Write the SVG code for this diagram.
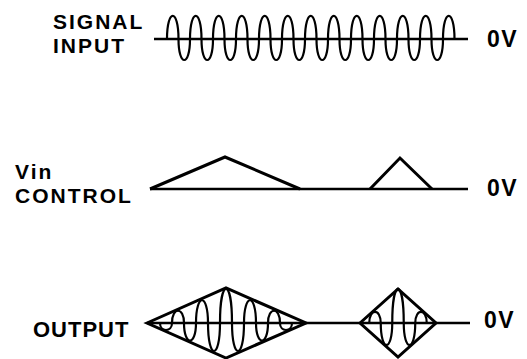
<svg xmlns="http://www.w3.org/2000/svg" width="527" height="359" viewBox="0 0 527 359">
<style>
.lbl{font-family:"Liberation Sans",Arial,sans-serif;font-weight:bold;font-size:21px;letter-spacing:2px;fill:#000}
.zv{font-size:23px;letter-spacing:1.5px}
.out{font-size:22px;letter-spacing:1px}
.base{stroke:#000;stroke-width:2.5;fill:none}
.wave{stroke:#000;stroke-width:2.2;fill:none;stroke-linejoin:round}
.env{stroke:#000;stroke-width:3;fill:none;stroke-linejoin:miter}
</style>
<rect width="527" height="359" fill="#fff"/>
<g id="signal-input">
<text class="lbl" x="53" y="29">SIGNAL</text>
<text class="lbl" x="53" y="52.5">INPUT</text>
<line class="base" x1="154" y1="39" x2="468" y2="39"/>
<path class="wave" d="M167,39 c0,-30.7 11.5,-30.7 11.5,0 c0,28 11.5,28 11.5,0 c0,-30.7 11.5,-30.7 11.5,0 c0,28 11.5,28 11.5,0 c0,-30.7 11.5,-30.7 11.5,0 c0,28 11.5,28 11.5,0 c0,-30.7 11.5,-30.7 11.5,0 c0,28 11.5,28 11.5,0 c0,-30.7 11.5,-30.7 11.5,0 c0,28 11.5,28 11.5,0 c0,-30.7 11.5,-30.7 11.5,0 c0,28 11.5,28 11.5,0 c0,-30.7 11.5,-30.7 11.5,0 c0,28 11.5,28 11.5,0 c0,-30.7 11.5,-30.7 11.5,0 c0,28 11.5,28 11.5,0 c0,-30.7 11.5,-30.7 11.5,0 c0,28 11.5,28 11.5,0 c0,-30.7 11.5,-30.7 11.5,0 c0,28 11.5,28 11.5,0 c0,-30.7 11.5,-30.7 11.5,0 c0,28 11.5,28 11.5,0 c0,-30.7 11.5,-30.7 11.5,0 c0,28 11.5,28 11.5,0 c0,-30.7 11.5,-30.7 11.5,0"/>
<text class="lbl zv" x="487" y="47">0V</text>
</g>
<g id="vin-control">
<text class="lbl" x="15" y="179">Vin</text>
<text class="lbl" x="15" y="203">CONTROL</text>
<line class="base" x1="150" y1="189" x2="468" y2="189"/>
<polyline class="env" points="150,189 225,157 300,189"/>
<polyline class="env" points="370,189 400,158 432,189"/>
<text class="lbl zv" x="487" y="196">0V</text>
</g>
<g id="output">
<text class="lbl out" x="33" y="337">OUTPUT</text>
<line class="base" x1="147" y1="323" x2="470" y2="323"/>
<polygon class="env" points="147,323 226,288 306,323 226,358"/>
<polygon class="env" points="360,323 398,289 436,323 398,357"/>
<path class="wave" d="M160,323 c0,9.33 12,9.33 12,0 c0,-16.33 12,-16.33 12,0 c0,23.33 12,23.33 12,0 c0,-30.33 12,-30.33 12,0 c0,37.33 12,37.33 12,0 c0,-45.33 12,-45.33 12,0 c0,37.33 12,37.33 12,0 c0,-30.33 12,-30.33 12,0 c0,23.33 12,23.33 12,0 c0,-16.33 12,-16.33 12,0 c0,9.33 12,9.33 12,0"/>
<path class="wave" d="M369.25,323 c0,-14.7 11.5,-14.7 11.5,0 c0,29.3 11.5,29.3 11.5,0 c0,-45.3 11.5,-45.3 11.5,0 c0,29.3 11.5,29.3 11.5,0 c0,-14.7 11.5,-14.7 11.5,0"/>
<text class="lbl zv" x="484" y="328">0V</text>
</g>
</svg>
